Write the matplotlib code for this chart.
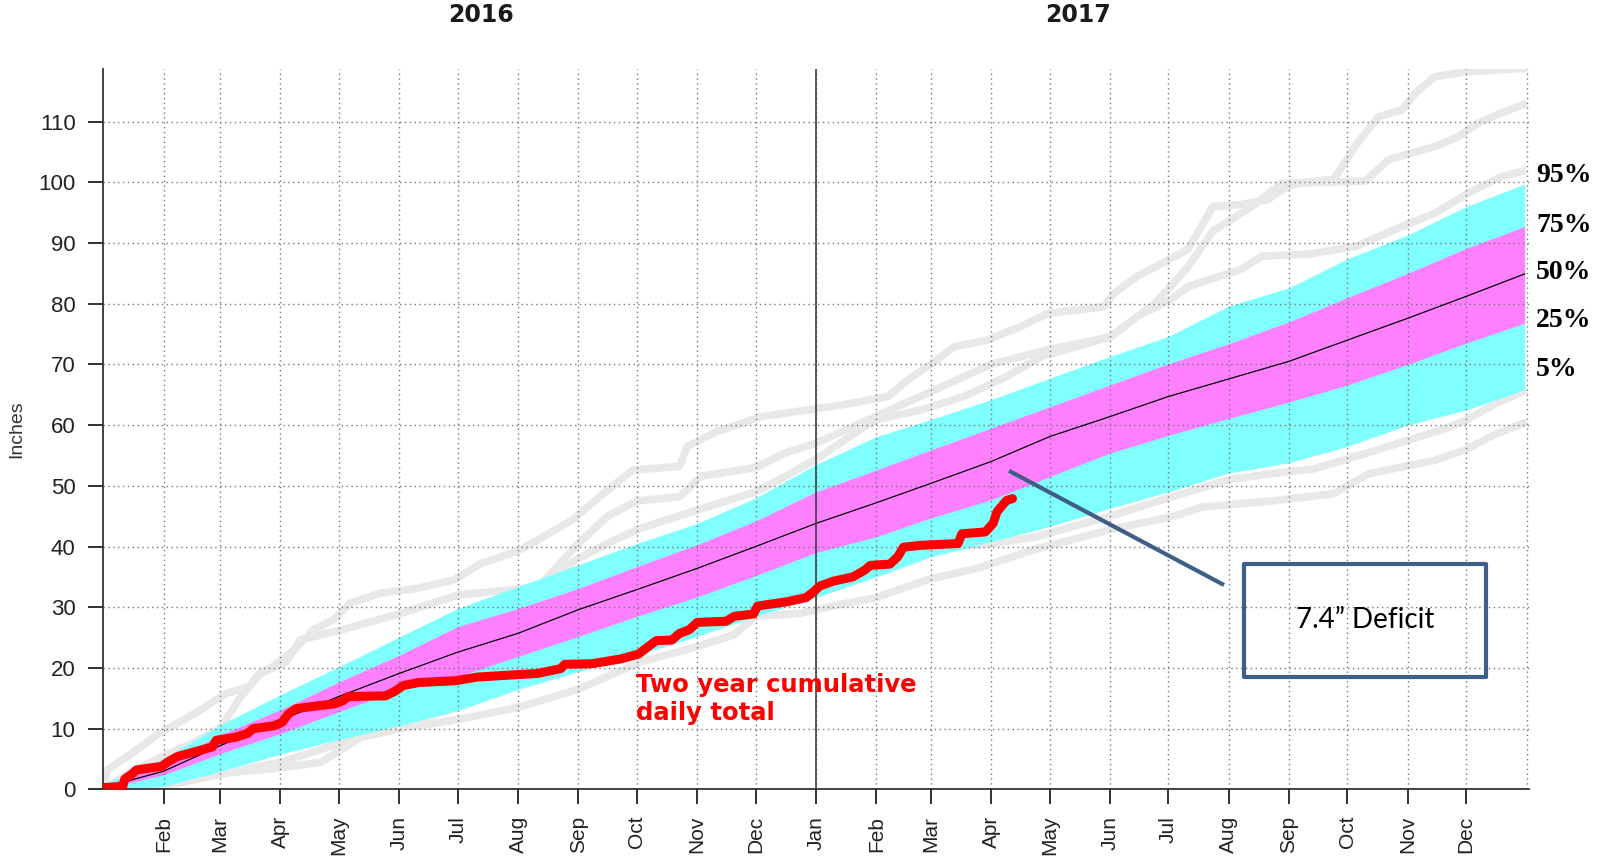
import matplotlib
matplotlib.use("Agg")
import matplotlib.pyplot as plt
from matplotlib.patches import Rectangle
from matplotlib.lines import Line2D

plt.rcParams['font.family'] = ['Liberation Sans', 'DejaVu Sans']

# ---------------- data ----------------
# month starts (day index from Jan 1 2016)
month_days = [31, 60, 91, 121, 152, 182, 213, 244, 274, 305, 335,
              366, 397, 425, 456, 486, 517, 547, 578, 609, 639, 670, 700]
month_labels = ['Feb', 'Mar', 'Apr', 'May', 'Jun', 'Jul', 'Aug', 'Sep', 'Oct', 'Nov', 'Dec',
                'Jan', 'Feb', 'Mar', 'Apr', 'May', 'Jun', 'Jul', 'Aug', 'Sep', 'Oct', 'Nov', 'Dec']
year_labels = ['2016', '2017']
pct_labels = ['95%', '75%', '50%', '25%', '5%']
y_ticks = [0, 10, 20, 30, 40, 50, 60, 70, 80, 90, 100, 110]

band_days = [0, 31, 60, 91, 121, 152, 182, 213, 244, 274, 305, 335, 366,
             397, 425, 456, 486, 517, 547, 578, 609, 639, 670, 700, 730]
p95 = [0.9, 5.1, 10.6, 15.6, 20.2, 25.1, 29.8, 33.4, 37.0, 40.5, 43.8, 48.0, 53.5,
       58.1, 60.9, 64.2, 67.7, 71.3, 74.6, 79.6, 82.6, 87.4, 91.3, 96.0, 99.7]
p75 = [0.6, 4.0, 9.0, 13.1, 17.7, 22.1, 26.8, 29.8, 33.1, 36.7, 40.3, 44.2, 49.0,
       52.6, 55.9, 59.5, 63.0, 66.6, 70.1, 73.4, 77.0, 81.0, 85.0, 89.1, 92.7]
p50 = [0.3, 3.0, 7.2, 11.4, 15.3, 19.1, 22.6, 25.7, 29.6, 32.9, 36.4, 40.0, 43.8,
       47.2, 50.4, 54.0, 58.1, 61.4, 64.7, 67.6, 70.5, 74.0, 77.6, 81.2, 84.9]
p25 = [0.1, 2.4, 5.9, 9.2, 12.8, 16.4, 18.6, 21.9, 25.2, 28.5, 31.7, 35.2, 39.0,
       41.6, 44.7, 47.7, 51.5, 55.4, 58.3, 61.1, 63.8, 66.6, 70.0, 73.5, 76.8]
p05 = [0.0, 0.5, 3.0, 5.8, 8.2, 10.5, 13.0, 16.5, 19.4, 22.1, 25.2, 28.5, 31.6,
       35.0, 38.3, 40.8, 43.3, 46.3, 49.0, 52.1, 53.8, 56.5, 60.0, 62.5, 65.8]

# observed two-year cumulative total
obs_days = [0, 10, 11, 15, 17, 30, 33, 38, 47, 56, 58, 68, 74, 77, 88, 92, 95, 99, 111, 119,
            123, 126, 145, 150, 154, 162, 181, 192, 223, 235, 237, 251, 266, 275, 279, 284,
            292, 296, 301, 305, 320, 324, 334, 336, 351, 361, 365, 368, 375, 385, 391, 394,
            404, 408, 411, 420, 439, 441, 453, 457, 459, 461, 464, 467]
obs_vals = [0.3, 0.5, 1.7, 2.6, 3.2, 3.8, 4.5, 5.4, 6.2, 7.0, 8.1, 8.6, 9.2, 10.0, 10.5, 11.1,
            12.4, 13.3, 13.8, 14.1, 14.6, 15.3, 15.4, 16.2, 17.1, 17.6, 17.9, 18.5, 19.1, 19.9,
            20.6, 20.7, 21.5, 22.3, 23.3, 24.5, 24.6, 25.7, 26.3, 27.5, 27.7, 28.5, 28.9, 30.2,
            30.9, 31.6, 32.6, 33.5, 34.3, 35.0, 36.1, 36.9, 37.1, 38.3, 39.9, 40.2, 40.5, 42.1,
            42.4, 43.8, 45.7, 46.5, 47.6, 47.9]

# historical two-year traces (grey)
g1_days = [0, 2, 15, 29, 41, 50, 63, 75, 81, 87, 98, 108, 118, 127, 142, 161, 180, 194, 214,
           241, 259, 272, 296, 300, 315, 338, 362, 379, 403, 413, 428, 437, 454, 471, 485, 514,
           519, 531, 557, 566, 570, 584, 598, 608, 615, 632, 644, 655, 667, 674, 684, 701, 731]
g1_vals = [0, 3.2, 6.0, 9.3, 11.4, 13.1, 15.8, 16.9, 19.2, 20.2, 23.0, 26.3, 27.9, 30.7, 32.3,
           33.1, 34.5, 37.2, 39.4, 44.4, 49.3, 52.6, 53.2, 56.5, 58.9, 61.4, 62.5, 63.3, 64.7,
           67.4, 70.7, 72.9, 74.0, 76.2, 78.4, 79.5, 81.7, 84.5, 88.9, 93.8, 96.0, 96.3, 97.1,
           99.3, 99.9, 100.5, 106.4, 110.8, 111.9, 114.7, 117.4, 118.2, 118.8]
g2_days = [0, 15, 31, 45, 60, 70, 80, 94, 101, 125, 153, 182, 213, 224, 244, 259, 274, 296,
           307, 335, 350, 366, 397, 425, 456, 486, 517, 540, 557, 570, 590, 605, 648, 660, 684,
           696, 706, 718, 731]
g2_vals = [0, 3.0, 5.5, 7.5, 10.0, 15.0, 19.0, 21.0, 24.6, 26.5, 29.0, 32.0, 33.0, 33.5, 40.5,
           45.0, 47.5, 48.2, 51.6, 53.0, 55.4, 57.0, 61.5, 65.5, 70.0, 72.5, 74.5, 80.0, 86.0,
           92.0, 96.0, 99.8, 100.2, 103.7, 105.9, 107.5, 109.7, 111.4, 113.0]
g3_days = [0, 31, 60, 91, 121, 152, 182, 213, 224, 241, 262, 276, 300, 335, 350, 368, 396, 420,
           442, 464, 482, 518, 531, 548, 557, 584, 595, 620, 643, 667, 684, 701, 718, 731]
g3_vals = [0, 3.5, 8.0, 13.0, 18.0, 23.0, 28.4, 30.5, 31.7, 37.5, 41.0, 43.0, 45.5, 49.0, 51.5,
           54.8, 60.8, 62.5, 64.7, 68.0, 71.3, 74.6, 77.9, 80.6, 82.8, 85.6, 87.8, 88.2, 89.4,
           92.7, 94.9, 98.2, 100.9, 102.0]
g4_days = [0, 31, 60, 91, 121, 152, 182, 213, 244, 274, 305, 335, 366, 397, 425, 456, 478, 517,
           547, 578, 600, 622, 650, 670, 690, 701, 715, 731]
g4_vals = [0, 0.5, 2.5, 4.5, 7.5, 10.5, 13.5, 17.0, 20.0, 23.0, 26.5, 30.0, 33.0, 36.5, 39.4,
           40.5, 41.5, 45.0, 48.0, 51.0, 52.0, 52.8, 55.5, 57.5, 59.5, 61.0, 63.5, 65.8]
g5_days = [0, 30, 45, 90, 112, 132, 152, 182, 213, 244, 276, 305, 324, 335, 358, 379, 396, 423,
           450, 478, 490, 520, 550, 564, 600, 632, 650, 684, 700, 715, 731]
g5_vals = [0, 0.5, 2.2, 3.5, 4.5, 8.5, 10.0, 11.5, 13.5, 16.5, 21.0, 23.5, 25.5, 28.5, 29.0,
           30.5, 31.5, 34.5, 36.5, 39.5, 40.5, 43.0, 45.0, 46.5, 47.5, 48.7, 52.0, 54.2, 56.0,
           58.5, 60.5]
grey_traces = [(g1_days, g1_vals), (g2_days, g2_vals), (g3_days, g3_vals),
               (g4_days, g4_vals), (g5_days, g5_vals)]

deficit_text = '7.4\u201d Deficit'
red_note = 'Two year cumulative\ndaily total'

# ---------------- figure ----------------
W, H = 1598, 856
fig = plt.figure(figsize=(W / 100, H / 100), dpi=100)
L, R, T, B = 103.3, 1528.5, 69.3, 789.4
ax = fig.add_axes([L / W, 1 - B / H, (R - L) / W, (B - T) / H])

for d, v in grey_traces:
    ax.plot(d, v, color='#e8e8e8', lw=5.5, zorder=1, solid_capstyle='butt')

ax.fill_between(band_days, p05, p95, color='#80ffff', lw=0, zorder=2)
ax.fill_between(band_days, p25, p75, color='#ff80ff', lw=0, zorder=2.1)
ax.plot(band_days, p50, color='black', lw=0.9, zorder=3)

ax.axvline(366, color='#404040', lw=1.2, zorder=3.2)
ax.axvline(731, color='#777777', lw=1.0, ls=(0, (1, 2.5)), zorder=2.6)

ax.plot(obs_days, obs_vals, color='#ff0000', lw=6.5, solid_capstyle='round',
        solid_joinstyle='round', zorder=4)

ax.set_xlim(0, 732)
ax.set_ylim(0, 118.6)
ax.set_xticks(month_days)
ax.set_xticklabels(month_labels, rotation=90)
ax.set_yticks(y_ticks)
ax.set_axisbelow(False)
ax.grid(True, color='#777777', lw=1.0, ls=(0, (1, 2.5)))
ax.tick_params(axis='both', direction='out', length=11, width=1.3,
               colors='#222222')
ax.tick_params(axis='y', labelsize=16, pad=9)
ax.tick_params(axis='x', labelsize=15, pad=8)
for s in ['top', 'right']:
    ax.spines[s].set_visible(False)
for s in ['left', 'bottom']:
    ax.spines[s].set_color('#333333')
    ax.spines[s].set_linewidth(1.3)
    ax.spines[s].set_zorder(3.5)

# axis title (y)
fig.text(17 / W, 1 - 429 / H, 'Inches', rotation=90, ha='center', va='center',
         fontsize=14, color='#333333')

# year labels
fig.text(481 / W, 1 - 15.5 / H, year_labels[0], ha='center', va='center',
         fontsize=17, fontweight='bold', family='DejaVu Sans', color='#1a1a1a')
fig.text(1078 / W, 1 - 14.5 / H, year_labels[1], ha='center', va='center',
         fontsize=17, fontweight='bold', family='DejaVu Sans', color='#1a1a1a')

# percentile labels
pct_y = [176, 225, 272.7, 320.7, 369.3]
for lab, yy in zip(pct_labels, pct_y):
    fig.text(1536 / W, 1 - yy / H, lab, ha='left', va='center', fontsize=20,
             fontweight='bold', family=['Liberation Serif', 'DejaVu Serif'], color='black')

# red annotation
fig.text(636 / W, 1 - 699 / H, red_note, ha='left', va='center', fontsize=17.5,
         fontweight='bold', family='DejaVu Sans', color='#ff0000', linespacing=1.17)

# deficit box and connector
box_col = '#3e5f8a'
fig.patches.append(Rectangle((1244 / W, 1 - 676.7 / H), 242 / W, 113.1 / H,
                             transform=fig.transFigure, fill=False, ec=box_col,
                             lw=3.0, joinstyle='round', zorder=5))
fig.lines.append(Line2D([1009 / W, 1224 / W], [1 - 470.8 / H, 1 - 585 / H],
                        transform=fig.transFigure, color=box_col, lw=3.0,
                        solid_capstyle='butt', zorder=5))
fig.text(1365 / W, 1 - 620 / H, deficit_text, ha='center', va='center', fontsize=20,
         family='Lato', color='black')

fig.savefig('out.png', dpi=100)
